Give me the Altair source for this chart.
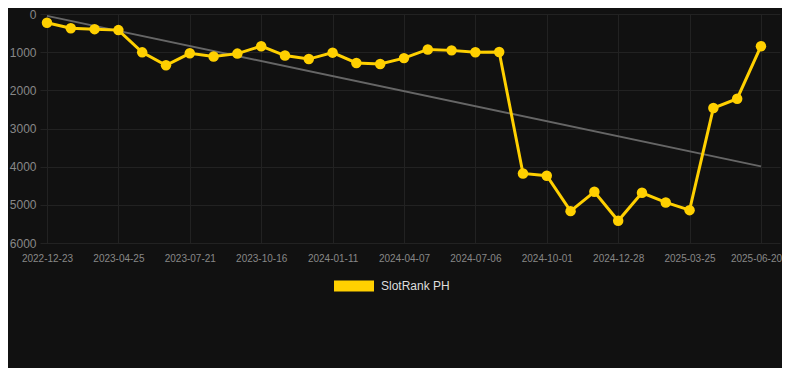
import altair as alt
import pandas as pd

tick_labels = ["2022-12-23", "2023-04-25", "2023-07-21", "2023-10-16", "2024-01-11",
               "2024-04-07", "2024-07-06", "2024-10-01", "2024-12-28", "2025-03-25", "2025-06-20"]
ranks = [230, 372, 397, 422, 1005, 1342, 1030, 1114, 1038, 843, 1089, 1181, 1013, 1283, 1308,
         1156, 928, 953, 1004, 996, 4177, 4236, 5165, 4658, 5418, 4684, 4937, 5139, 2464, 2220, 843]
series_name = "SlotRank PH"

YELLOW = "#FFD000"
BG = "#111111"
GRID = "#222222"

df = pd.DataFrame({"i": list(range(len(ranks))), "rank": ranks, "series": series_name})

label_arr = "[" + ",".join("'%s'" % s for s in tick_labels) + "]"

x_enc = alt.X("i:Q", scale=alt.Scale(domain=[-0.294, 30.8], nice=False, zero=False),
              axis=alt.Axis(values=list(range(0, 31, 3)), labelExpr=label_arr + "[round(datum.value/3)]",
                            title=None, labelFontSize=10, labelPadding=10, tickSize=0,
                            labelOffset={"condition": {"test": "datum.value == 30", "value": -5}, "value": 0},
                            domain=False, grid=True))
y_enc = alt.Y("rank:Q", scale=alt.Scale(domain=[0, 6000], reverse=True, nice=False, zero=False),
              axis=alt.Axis(values=[0, 1000, 2000, 3000, 4000, 5000, 6000], title=None, format="d",
                            labelFontSize=12, labelPadding=4, tickSize=0, domain=False, grid=True))

base = alt.Chart(df).encode(x=x_enc, y=y_enc)

trend = base.transform_regression("i", "rank", extent=[0, 30]).mark_line(
    color="#666666", strokeWidth=2)
line = base.mark_line(color=YELLOW, strokeWidth=3)
pts = base.mark_circle(size=110, opacity=1).encode(
    color=alt.Color("series:N", scale=alt.Scale(range=[YELLOW]),
                    legend=alt.Legend(title=None, orient="none", legendX=293, legendY=251,
                                      symbolType="M-1,-0.275H1V0.275H-1Z", symbolSize=1600,
                                      symbolOpacity=1, labelFontSize=12, labelColor="#dddddd",
                                      padding=0, labelOffset=6)))

chart = alt.layer(trend, line, pts).properties(
    width=740, height=229,
    background=BG,
    padding={"left": 32, "top": 6, "right": 2, "bottom": 125},
    autosize=alt.AutoSizeParams(type="none"),
).configure_view(stroke=None, fill=BG).configure_axis(
    labelColor="#888888", gridColor=GRID, gridWidth=1, labelFont="Arial"
).configure_legend(labelFont="Arial")

chart.save("out.html", embed_options={"renderer": "svg", "actions": False})
